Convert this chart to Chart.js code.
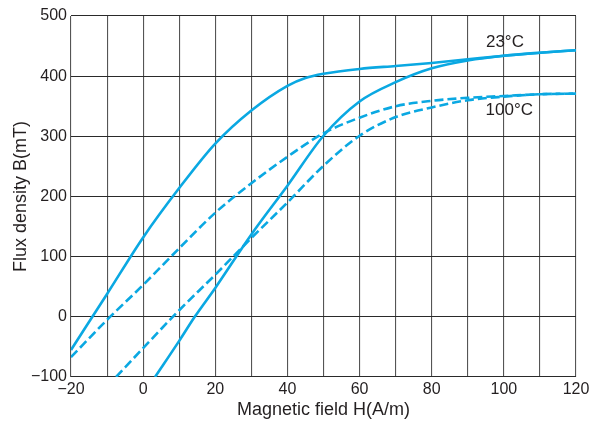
<!DOCTYPE html>
<html>
<head>
<meta charset="utf-8">
<script src="https://cdn.jsdelivr.net/npm/chart.js@4/dist/chart.umd.min.js"></script>
<style>
  body { margin: 0; background: #fff; }
  #wrap { width: 601px; height: 426px; }
</style>
</head>
<body>
<div id="wrap"><canvas id="bh-canvas" width="601" height="426"></canvas></div>
<script>
// B-H hysteresis loops
// 23°C, descending (upper) branch
const h23Up = [-20, -10, 0, 10, 20, 30, 40, 45, 50, 60, 70, 80, 90, 100, 110, 120]
const b23Up = [-55, 38, 132, 214, 288, 343, 384, 397, 404, 412, 417, 422, 428, 434, 439, 443]
// 23°C, ascending (lower) branch
const h23Low = [3.3, 10, 14.3, 20, 30, 40, 50, 60, 70, 80, 90, 100, 110, 120]
const b23Low = [-100, -40, 0, 48, 137, 218, 301, 358, 390, 413, 426, 434, 439, 443]
// 100°C, descending (upper) branch
const h100Up = [-20, -10, 0, 10, 20, 30, 40, 50, 60, 70, 80, 90, 100, 110, 120]
const b100Up = [-67, -5, 53, 114, 173, 222, 266, 305, 331, 350, 359, 364, 367, 370, 371]
// 100°C, ascending (lower) branch
const h100Low = [-7.5, 0, 10, 20, 30, 40, 50, 60, 70, 80, 90, 100, 110, 120]
const b100Low = [-100, -52, 11, 70, 131, 190, 251, 301, 332, 348, 360, 366, 370, 371]

const xTicks = [-20, 0, 20, 40, 60, 80, 100, 120]
const yTicks = [-100, 0, 100, 200, 300, 400, 500]
const curveLabels = [
  { text: '23\u00b0C', h: 100.3, b: 456 },
  { text: '100\u00b0C', h: 101.5, b: 344 },
]

const blue = '#0aa8e2'
const ink = '#231f20'
const fontName = "'Liberation Sans', Arial, Helvetica, sans-serif"

function toPoints(xs, ys) {
  return xs.map((x, i) => ({ x: x, y: ys[i] }))
}

function branch(xs, ys, dashed) {
  return {
    data: toPoints(xs, ys),
    showLine: true,
    borderColor: blue,
    borderWidth: 2.6,
    borderDash: dashed ? [9, 4] : [],
    pointRadius: 0,
    fill: false,
    cubicInterpolationMode: 'monotone',
  }
}

const minus = (v) => (v < 0 ? '\u2212' + Math.abs(v) : String(v))

// draws the 23°C / 100°C tags at data coordinates
const tagPlugin = {
  id: 'tags',
  afterDatasetsDraw(chart) {
    const { ctx, scales } = chart
    ctx.save()
    ctx.fillStyle = ink
    ctx.font = '17px ' + fontName
    ctx.textAlign = 'center'
    ctx.textBaseline = 'middle'
    curveLabels.forEach((l) => {
      ctx.fillText(l.text, scales.x.getPixelForValue(l.h), scales.y.getPixelForValue(l.b))
    })
    ctx.restore()
  },
}

new Chart(document.getElementById('bh-canvas'), {
  type: 'scatter',
  data: {
    datasets: [
      branch(h23Up, b23Up, false),
      branch(h23Low, b23Low, false),
      branch(h100Up, b100Up, true),
      branch(h100Low, b100Low, true),
    ],
  },
  options: {
    responsive: false,
    animation: false,
    layout: { padding: { top: 16, right: 25, left: 0, bottom: 0 } },
    plugins: {
      legend: { display: false },
      tooltip: { enabled: false },
    },
    scales: {
      x: {
        type: 'linear',
        min: -20,
        max: 120,
        afterFit(scale) { scale.height = 49 },
        afterBuildTicks(scale) {
          const t = []
          for (let v = -20; v <= 120; v += 10) t.push({ value: v })
          scale.ticks = t
        },
        grid: { color: '#555', lineWidth: 1.1, drawTicks: false },
        border: { display: false },
        ticks: {
          padding: 3,
          color: ink,
          font: { family: fontName, size: 16 },
          maxRotation: 0,
          autoSkip: false,
          callback: (v) => (xTicks.includes(v) ? minus(v) : ''),
        },
        title: {
          display: true,
          text: 'Magnetic field H(A/m)',
          color: ink,
          font: { family: fontName, size: 18 },
          padding: { top: 0, bottom: 5 },
        },
      },
      y: {
        type: 'linear',
        min: -100,
        max: 500,
        afterFit(scale) { scale.width = 71 },
        afterBuildTicks(scale) {
          scale.ticks = yTicks.map((v) => ({ value: v }))
        },
        grid: { color: '#2a2a2a', lineWidth: 1.1, drawTicks: false },
        border: { display: false },
        ticks: {
          padding: 4,
          color: ink,
          font: { family: fontName, size: 16 },
          callback: (v) => minus(v),
        },
        title: {
          display: true,
          text: 'Flux density B(mT)',
          color: ink,
          font: { family: fontName, size: 18 },
          padding: { top: 10, bottom: 0 },
        },
      },
    },
  },
  plugins: [tagPlugin],
})
</script>
</body>
</html>
